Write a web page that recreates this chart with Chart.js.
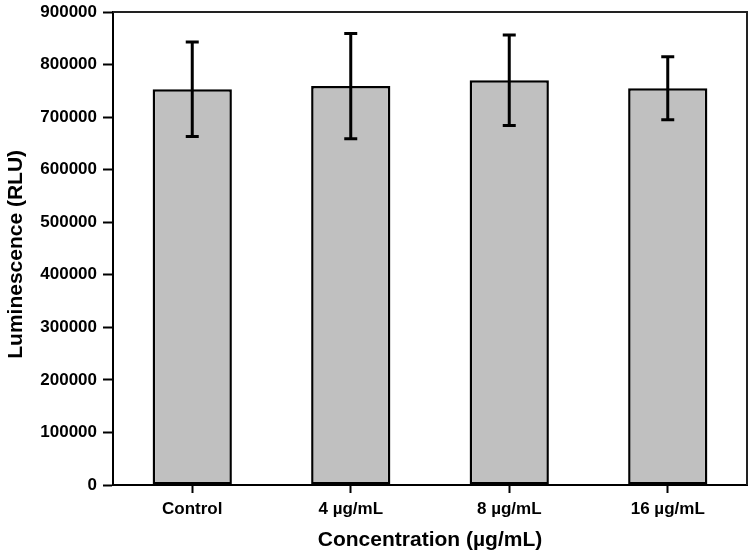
<!DOCTYPE html>
<html>
<head>
<meta charset="utf-8">
<script src="https://cdn.jsdelivr.net/npm/chart.js@4.4.0/dist/chart.umd.min.js"></script>
<style>
  html, body { margin: 0; padding: 0; background: #fff; }
  #wrap { width: 750px; height: 559px; }
</style>
</head>
<body>
<div id="wrap"><canvas id="lumChart"></canvas></div>
<script>
var labels = ['Control', '4 \u00b5g/mL', '8 \u00b5g/mL', '16 \u00b5g/mL'];
var means = [753000, 759000, 770000, 755000];
var errs = [90000, 100000, 86000, 60000];
var yTicks = [0, 100000, 200000, 300000, 400000, 500000, 600000, 700000, 800000, 900000];

var fontFamily = '"Liberation Sans", Arial, sans-serif';

// top + right frame lines
var framePlugin = {
    id: 'frame',
    afterDraw: function (chart) {
        var ctx = chart.ctx, a = chart.chartArea;
        ctx.save();
        ctx.strokeStyle = '#222';
        ctx.lineWidth = 2;
        ctx.beginPath();
        ctx.moveTo(a.left, a.top);
        ctx.lineTo(a.right, a.top);
        ctx.lineTo(a.right, a.bottom);
        ctx.stroke();
        ctx.restore();
    }
};

// error bars drawn from means/errs through the scales
var errorBarPlugin = {
    id: 'errorBars',
    afterDatasetsDraw: function (chart) {
        var ctx = chart.ctx;
        var y = chart.scales.y;
        var meta = chart.getDatasetMeta(0);
        ctx.save();
        ctx.strokeStyle = '#000';
        ctx.lineWidth = 3;
        meta.data.forEach(function (bar, i) {
            var x = bar.x;
            var top = y.getPixelForValue(means[i] + errs[i]);
            var bot = y.getPixelForValue(means[i] - errs[i]);
            var cap = 6.5;
            ctx.beginPath();
            ctx.moveTo(x, top);
            ctx.lineTo(x, bot);
            ctx.moveTo(x - cap, top);
            ctx.lineTo(x + cap, top);
            ctx.moveTo(x - cap, bot);
            ctx.lineTo(x + cap, bot);
            ctx.stroke();
        });
        ctx.restore();
    }
};

var ctx = document.getElementById('lumChart').getContext('2d');
var lumChart = new Chart(ctx, {
    type: 'bar',
    data: {
        labels: labels,
        datasets: [{
            label: 'Luminescence',
            data: means,
            backgroundColor: '#c0c0c0',
            borderColor: '#000',
            borderWidth: 2.5,
            borderSkipped: false,
            barPercentage: 0.5,
            categoryPercentage: 1.0
        }]
    },
    options: {
        responsive: true,
        maintainAspectRatio: false,
        animation: false,
        layout: { padding: { left: 0, right: 3, top: 12, bottom: 0 } },
        plugins: {
            legend: { display: false },
            tooltip: { enabled: false }
        },
        scales: {
            x: {
                offset: true,
                afterFit: function (scale) { scale.height = 74; },
                grid: {
                    display: true,
                    offset: false,
                    drawOnChartArea: false,
                    drawTicks: true,
                    tickLength: 8,
                    tickWidth: 2,
                    tickColor: '#000'
                },
                border: { display: true, color: '#000', width: 2 },
                ticks: {
                    color: '#000',
                    padding: 6,
                    maxRotation: 0,
                    font: { family: fontFamily, size: 17, weight: 'bold' }
                },
                title: {
                    display: true,
                    text: 'Concentration (\u00b5g/mL)',
                    color: '#000',
                    padding: { top: 4, bottom: 6 },
                    font: { family: fontFamily, size: 21, weight: 'bold' }
                }
            },
            y: {
                min: 0,
                max: 900000,
                afterFit: function (scale) {
                    scale.width = 113;
                    scale.paddingTop = 0;
                    scale.paddingBottom = 0;
                },
                afterBuildTicks: function (scale) {
                    scale.ticks = yTicks.map(function (v) { return { value: v }; });
                },
                grid: {
                    display: true,
                    drawOnChartArea: false,
                    drawTicks: true,
                    tickLength: 10,
                    tickWidth: 2,
                    tickColor: '#000'
                },
                border: { display: true, color: '#000', width: 2 },
                ticks: {
                    color: '#000',
                    padding: 6,
                    font: { family: fontFamily, size: 17, weight: 'bold' },
                    callback: function (v) { return String(v); }
                },
                title: {
                    display: true,
                    text: 'Luminescence (RLU)  ',
                    color: '#000',
                    padding: { top: 4, bottom: 4 },
                    font: { family: fontFamily, size: 21, weight: 'bold' }
                }
            }
        }
    },
    plugins: [framePlugin, errorBarPlugin]
});
</script>
</body>
</html>
